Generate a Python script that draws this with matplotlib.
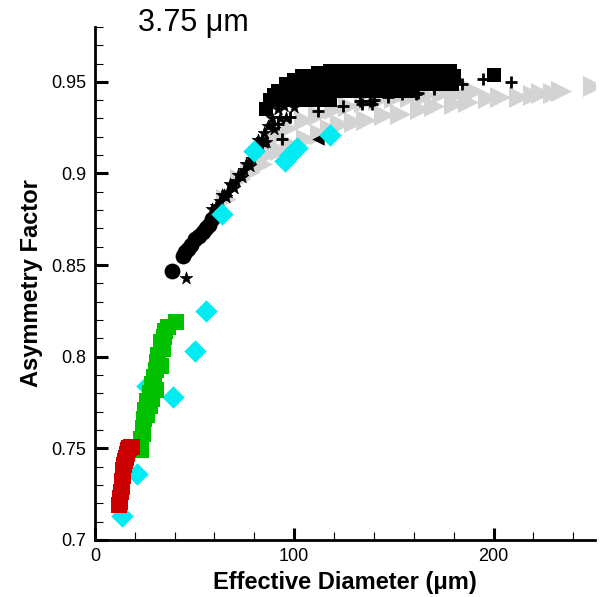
import matplotlib.pyplot as plt
from matplotlib.ticker import MultipleLocator

plt.rcParams['font.family'] = ['Liberation Sans', 'DejaVu Sans']

# red squares (small crystals)
red_x = [12.2, 12.5, 12.8, 13.1, 13.4, 13.7, 14.0, 14.3, 14.7, 15.1, 15.6, 16.1, 16.7, 17.3, 18.0, 18.8]
red_y = [0.719, 0.721, 0.723, 0.726, 0.729, 0.732, 0.735, 0.738, 0.741, 0.743, 0.745, 0.747, 0.749, 0.750, 0.751, 0.751]

# green squares
green_x = [23.0, 23.3, 24.0, 24.6, 25.2, 27.5, 26.2, 27.8, 28.6, 29.5, 30.5, 31.2, 31.8, 34.0, 33.0,
           34.5, 35.0, 36.5, 40.5, 28.5, 30.5, 26.0, 24.0, 33.0]
green_y = [0.749, 0.755, 0.761, 0.766, 0.771, 0.773, 0.776, 0.780, 0.785, 0.789, 0.793, 0.797, 0.801, 0.804,
           0.808, 0.811, 0.814, 0.816, 0.819, 0.777, 0.782, 0.768, 0.758, 0.795]

# cyan diamonds
cyan_x = [13.5, 21.0, 26.0, 39.0, 50.0, 56.0, 64.0, 80.0, 95.5, 98.0, 101.5, 118.0]
cyan_y = [0.713, 0.736, 0.784, 0.778, 0.803, 0.825, 0.878, 0.912, 0.907, 0.910, 0.914, 0.921]

# gray right-pointing triangles
gray_x = [66, 73, 78, 84, 88, 93, 98, 106, 113, 118, 123, 130, 136, 145, 153, 163, 170, 180, 187, 197,
          203, 213, 220, 224, 230, 234, 250,
          90, 97, 105, 112, 120, 127, 135, 142, 150, 158, 166, 174, 182, 190]
gray_y = [0.886, 0.897, 0.901, 0.905, 0.911, 0.913, 0.916, 0.919, 0.9215, 0.924, 0.927, 0.928, 0.929, 0.932,
          0.9325, 0.935, 0.937, 0.938, 0.939, 0.941, 0.942, 0.942, 0.943, 0.944, 0.944, 0.945, 0.948,
          0.920, 0.925, 0.929, 0.932, 0.935, 0.937, 0.939, 0.940, 0.941, 0.942, 0.943, 0.944, 0.944, 0.945]

# black filled circles
circ_x = [38.7, 44.0, 45.0, 46.5, 48.0, 50.0, 52.0, 54.0, 56.0, 57.5, 59.0]
circ_y = [0.847, 0.855, 0.857, 0.859, 0.861, 0.864, 0.866, 0.868, 0.870, 0.872, 0.875]

# black asterisks
star_x = [45.5, 59.0, 61.0, 63.0, 65.0, 67.0, 69.0, 71.0, 73.0, 75.0, 77.0, 79.0, 81.0, 83.0,
          82.0, 85.0, 87.0, 89.0, 86.0, 90.0, 93.0, 95.0, 98.0, 92.0, 96.0, 100.0,
          64.0, 68.0, 72.0, 76.0, 80.0, 84.0, 66.0, 70.0, 74.0, 78.0]
star_y = [0.843, 0.8805, 0.882, 0.885, 0.888, 0.890, 0.893, 0.896, 0.899, 0.902, 0.905, 0.908, 0.912, 0.915,
          0.918, 0.922, 0.926, 0.930, 0.917, 0.924, 0.930, 0.937, 0.942, 0.935, 0.930, 0.936,
          0.888, 0.894, 0.899, 0.905, 0.913, 0.919, 0.887, 0.892, 0.898, 0.904]

# black squares
sq_x = [118, 124, 130, 136, 142, 148, 154, 160, 166, 172, 178,
        104, 110, 116, 122, 128, 134, 140, 146, 152, 158, 164, 170, 176, 180,
        96, 102, 108, 114, 120, 126, 132, 138, 144, 150, 156, 162, 168, 174, 179,
        92, 98, 104, 110, 116, 122, 128, 134, 140, 146, 152, 158,
        88, 94, 100, 106, 112, 118,
        100, 112, 90, 86, 200]
sq_y = ([0.956] * 11 + [0.953] * 14 + [0.949] * 15 + [0.945] * 12 + [0.940] * 6
        + [0.951, 0.955, 0.943, 0.935, 0.954])

# black plus signs
plus_x = [194.5, 208.5, 184, 161, 154, 138, 133, 124.6, 140, 162, 94, 89, 92, 98, 134, 139, 112, 147, 170]
plus_y = [0.9516, 0.950, 0.949, 0.9435, 0.9435, 0.9396, 0.9396, 0.937, 0.940, 0.944, 0.919, 0.927, 0.927,
          0.931, 0.938, 0.938, 0.934, 0.942, 0.946]

# black left-pointing triangles
ltri_x = [84, 112]
ltri_y = [0.917, 0.919]

fig = plt.figure(figsize=(6.08, 5.97), dpi=100)
ax = fig.add_axes([0.156, 0.0955, 0.823, 0.8595])

ax.scatter(gray_x, gray_y, marker='>', s=230, c='#d3d3d3', linewidths=0, zorder=2)
ax.scatter(sq_x, sq_y, marker='s', s=95, c='black', linewidths=0, zorder=3)
ax.scatter(circ_x, circ_y, marker='o', s=130, c='black', linewidths=0, zorder=3)
ax.scatter(star_x, star_y, marker='*', s=90, c='black', linewidths=0.5, zorder=3)
ax.scatter(plus_x, plus_y, marker='+', s=80, c='black', linewidths=2, zorder=3)
ax.scatter(ltri_x, ltri_y, marker='<', s=80, c='black', linewidths=0, zorder=3)
ax.scatter(cyan_x, cyan_y, marker='D', s=130, c='#00ecf2', linewidths=0, zorder=4)
ax.scatter(green_x, green_y, marker='s', s=125, c='#00c000', linewidths=0, zorder=5)
ax.scatter(red_x, red_y, marker='s', s=125, c='#cc0000', linewidths=0, zorder=6)

ax.set_xlim(0, 251)
ax.set_ylim(0.7, 0.98)
ax.xaxis.set_major_locator(MultipleLocator(100))
ax.xaxis.set_minor_locator(MultipleLocator(20))
ax.yaxis.set_major_locator(MultipleLocator(0.05))
ax.yaxis.set_minor_locator(MultipleLocator(0.01))
ax.set_yticks([0.7, 0.75, 0.8, 0.85, 0.9, 0.95])
ax.set_yticklabels(['0.7', '0.75', '0.8', '0.85', '0.9', '0.95'])

for s in ['top', 'right']:
    ax.spines[s].set_visible(False)
for s in ['left', 'bottom']:
    ax.spines[s].set_linewidth(2)

ax.tick_params(which='major', direction='in', length=9, width=2.2, labelsize=13, pad=6)
ax.tick_params(which='minor', direction='in', length=6, width=0.8)

ax.set_xlabel('Effective Diameter (μm)', fontsize=17, fontweight='bold', labelpad=4)
ax.set_ylabel('Asymmetry Factor', fontsize=17, fontweight='bold', labelpad=6)

fig.text(0.318, 0.962, '3.75 μm', fontsize=22, ha='center', va='center')

fig.savefig('out.png', dpi=100)
